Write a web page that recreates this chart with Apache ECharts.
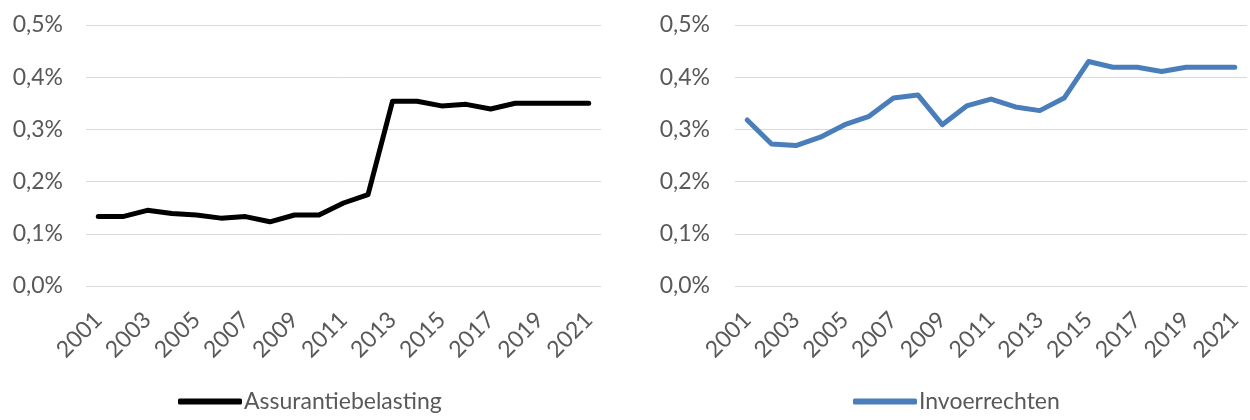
<!DOCTYPE html>
<html>
<head>
<meta charset="utf-8">
<script src="https://cdn.jsdelivr.net/npm/echarts@6/dist/echarts.min.js"></script>
<style>
html,body{margin:0;padding:0;background:#fff;}
#c{width:1250px;height:420px;}
</style>
</head>
<body>
<div id="c"></div>
<script>
const years = ['2001','2002','2003','2004','2005','2006','2007','2008','2009','2010','2011','2012','2013','2014','2015','2016','2017','2018','2019','2020','2021'];
const assurantiebelasting = [0.133,0.133,0.145,0.139,0.136,0.130,0.133,0.123,0.136,0.136,0.159,0.175,0.354,0.354,0.345,0.348,0.339,0.350,0.350,0.350,0.350];
const invoerrechten = [0.318,0.272,0.269,0.285,0.309,0.325,0.360,0.366,0.309,0.345,0.358,0.343,0.336,0.360,0.430,0.419,0.419,0.411,0.419,0.419,0.419];
const seriesNames = ['Assurantiebelasting','Invoerrechten'];

const FONT = 'Lato';
const FS = 23;
const TXT = '#595959';
const chart = echarts.init(document.getElementById('c'), null, {renderer:'canvas'});

function xAxis(gi){
  return {
    type:'category', gridIndex:gi, data:years, boundaryGap:true,
    axisLine:{show:false}, axisTick:{show:false},
    axisLabel:{interval:1, rotate:45, color:TXT, fontFamily:FONT, fontSize:FS, margin:30}
  };
}
function yAxis(gi, m){
  return {
    type:'value', gridIndex:gi, min:0, max:0.5, interval:0.1,
    axisLine:{show:false}, axisTick:{show:false},
    splitLine:{lineStyle:{color:'#d9d9d9', width:1}},
    axisLabel:{color:TXT, fontFamily:FONT, fontSize:FS, margin:m,
      formatter:v=>v.toFixed(1).replace('.',',')+'%'}
  };
}

chart.setOption({
  animation:false,
  grid:[
    {left:86, top:25, width:515, height:261},
    {left:735, top:25, width:512, height:261}
  ],
  xAxis:[xAxis(0), xAxis(1)],
  yAxis:[yAxis(0,23), yAxis(1,25)],
  legend:[
    {data:[seriesNames[0]], left:178, top:390, padding:0, itemWidth:64, itemHeight:6, itemGap:0,
     icon:'roundRect', textStyle:{color:TXT, fontFamily:FONT, fontSize:FS, padding:[0,0,0,-3]}},
    {data:[seriesNames[1]], left:853, top:390, padding:0, itemWidth:64, itemHeight:6, itemGap:0,
     icon:'roundRect', textStyle:{color:TXT, fontFamily:FONT, fontSize:FS, padding:[0,0,0,-3]}}
  ],
  series:[
    {name:seriesNames[0], type:'line', xAxisIndex:0, yAxisIndex:0, data:assurantiebelasting,
     symbol:'none', color:'#000000', lineStyle:{width:5, color:'#000000', cap:'round', join:'round'}},
    {name:seriesNames[1], type:'line', xAxisIndex:1, yAxisIndex:1, data:invoerrechten,
     symbol:'none', color:'#4a7ebb', lineStyle:{width:5, color:'#4a7ebb', cap:'round', join:'round'}}
  ]
});
</script>
</body>
</html>
